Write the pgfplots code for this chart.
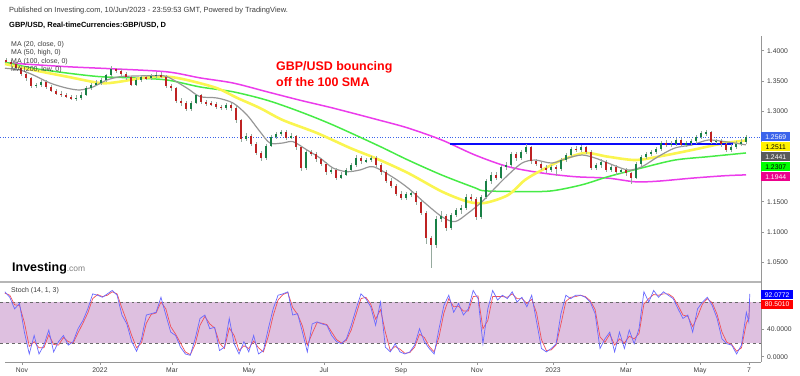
\documentclass[border=0pt]{standalone}
\usepackage{pgfplots}
\pgfplotsset{compat=1.18}
\usepackage{pgfplotstable}
\usepackage{fontspec}
\setmainfont{Liberation Sans}
\definecolor{upc}{RGB}{25,128,70}
\definecolor{dnc}{RGB}{190,35,35}
\definecolor{wickc}{RGB}{150,170,158}
\definecolor{ma20}{RGB}{150,150,150}
\definecolor{ma50}{RGB}{250,245,80}
\definecolor{ma100}{RGB}{70,235,70}
\definecolor{ma200}{RGB}{235,60,235}
\definecolor{resc}{RGB}{10,10,250}
\definecolor{pricec}{RGB}{60,100,235}
\definecolor{kc}{RGB}{105,105,255}
\definecolor{dc}{RGB}{240,80,90}
\definecolor{bandc}{RGB}{222,192,224}
\definecolor{axc}{RGB}{150,150,150}
\definecolor{txc}{RGB}{60,60,60}

\pgfplotstableread{
x o h l c d
6 1.385 1.388 1.379 1.382 0
11 1.382 1.385 1.375 1.378 0
16 1.378 1.381 1.369 1.372 0
21 1.372 1.375 1.358 1.362 0
26 1.362 1.365 1.350 1.354 0
31 1.354 1.356 1.338 1.342 0
36 1.342 1.347 1.339 1.343 1
41 1.343 1.352 1.340 1.348 1
46 1.348 1.351 1.337 1.340 0
51 1.340 1.343 1.331 1.334 0
56 1.334 1.337 1.326 1.329 0
61 1.329 1.333 1.324 1.327 0
66 1.327 1.330 1.321 1.324 0
71 1.324 1.327 1.318 1.321 0
76 1.321 1.326 1.317 1.322 1
81 1.322 1.331 1.319 1.327 1
86 1.327 1.341 1.325 1.338 1
91 1.338 1.347 1.335 1.344 1
96 1.344 1.351 1.341 1.347 1
101 1.347 1.355 1.344 1.352 1
106 1.352 1.362 1.349 1.359 1
111 1.359 1.374 1.356 1.369 1
116 1.369 1.372 1.363 1.367 0
121 1.367 1.370 1.358 1.362 0
126 1.362 1.365 1.352 1.356 0
131 1.356 1.358 1.341 1.344 0
136 1.344 1.355 1.342 1.352 1
141 1.352 1.360 1.349 1.356 1
146 1.356 1.360 1.351 1.355 0
151 1.355 1.362 1.352 1.358 1
156 1.358 1.365 1.355 1.360 1
161 1.360 1.364 1.354 1.357 0
166 1.357 1.359 1.338 1.341 0
171 1.341 1.345 1.334 1.338 0
176 1.338 1.340 1.313 1.317 0
181 1.317 1.321 1.309 1.313 0
186 1.313 1.316 1.300 1.304 0
191 1.304 1.317 1.301 1.314 1
196 1.314 1.329 1.311 1.326 1
201 1.326 1.328 1.312 1.315 0
206 1.315 1.319 1.309 1.313 0
211 1.313 1.317 1.308 1.312 0
216 1.312 1.315 1.304 1.307 0
221 1.307 1.310 1.301 1.305 0
226 1.305 1.313 1.302 1.310 1
231 1.310 1.313 1.301 1.305 0
236 1.305 1.308 1.281 1.285 0
241 1.285 1.287 1.249 1.254 0
246 1.254 1.264 1.250 1.259 1
251 1.259 1.262 1.242 1.246 0
256 1.246 1.249 1.227 1.231 0
261 1.231 1.234 1.217 1.222 0
266 1.222 1.246 1.219 1.243 1
271 1.243 1.260 1.240 1.257 1
276 1.257 1.266 1.254 1.262 1
281 1.262 1.269 1.259 1.265 1
286 1.265 1.268 1.252 1.256 0
291 1.256 1.263 1.253 1.258 1
296 1.258 1.261 1.236 1.240 0
301 1.240 1.242 1.200 1.206 0
306 1.206 1.236 1.203 1.232 1
311 1.232 1.236 1.225 1.229 0
316 1.229 1.232 1.216 1.220 0
321 1.220 1.223 1.209 1.213 0
326 1.213 1.216 1.195 1.199 0
331 1.199 1.207 1.196 1.203 1
336 1.203 1.205 1.186 1.190 0
341 1.190 1.199 1.187 1.195 1
346 1.195 1.206 1.192 1.202 1
351 1.202 1.214 1.199 1.211 1
356 1.211 1.227 1.208 1.223 1
361 1.223 1.226 1.213 1.217 0
366 1.217 1.223 1.214 1.219 1
371 1.219 1.226 1.216 1.222 1
376 1.222 1.225 1.207 1.211 0
381 1.211 1.214 1.195 1.199 0
386 1.199 1.202 1.181 1.185 0
391 1.185 1.189 1.172 1.176 0
396 1.176 1.179 1.159 1.163 0
401 1.163 1.167 1.152 1.156 0
406 1.156 1.166 1.153 1.162 1
411 1.162 1.169 1.158 1.165 1
416 1.165 1.168 1.145 1.149 0
421 1.149 1.152 1.128 1.132 0
426 1.132 1.135 1.080 1.090 0
431 1.090 1.094 1.040 1.078 0
436 1.078 1.126 1.074 1.122 1
441 1.122 1.135 1.117 1.126 1
446 1.126 1.129 1.102 1.106 0
451 1.106 1.132 1.103 1.128 1
456 1.128 1.140 1.124 1.136 1
461 1.136 1.145 1.130 1.139 1
466 1.139 1.162 1.136 1.158 1
471 1.158 1.162 1.151 1.155 0
476 1.155 1.158 1.120 1.124 0
481 1.124 1.161 1.121 1.158 1
486 1.158 1.188 1.155 1.184 1
491 1.184 1.199 1.180 1.195 1
496 1.195 1.199 1.186 1.190 0
501 1.190 1.211 1.187 1.207 1
506 1.207 1.215 1.203 1.211 1
511 1.211 1.232 1.208 1.229 1
516 1.229 1.233 1.218 1.222 0
521 1.222 1.236 1.219 1.232 1
526 1.232 1.245 1.229 1.240 1
531 1.240 1.242 1.213 1.217 0
536 1.217 1.221 1.209 1.213 0
541 1.213 1.216 1.202 1.206 0
546 1.206 1.210 1.198 1.202 0
551 1.202 1.211 1.199 1.207 1
556 1.207 1.211 1.193 1.204 0
561 1.204 1.222 1.201 1.219 1
566 1.219 1.231 1.215 1.227 1
571 1.227 1.241 1.224 1.238 1
576 1.238 1.242 1.232 1.236 0
581 1.236 1.244 1.233 1.240 1
586 1.240 1.243 1.229 1.233 0
591 1.233 1.235 1.202 1.206 0
596 1.206 1.214 1.202 1.210 1
601 1.210 1.220 1.206 1.216 1
606 1.216 1.219 1.199 1.203 0
611 1.203 1.211 1.199 1.207 1
616 1.207 1.210 1.195 1.199 0
621 1.199 1.206 1.196 1.202 1
626 1.202 1.205 1.193 1.197 0
631 1.197 1.200 1.180 1.190 0
636 1.190 1.215 1.187 1.212 1
641 1.212 1.227 1.209 1.224 1
646 1.224 1.232 1.220 1.229 1
651 1.229 1.236 1.225 1.232 1
656 1.232 1.241 1.229 1.237 1
661 1.237 1.251 1.234 1.248 1
666 1.248 1.252 1.240 1.244 0
671 1.244 1.250 1.240 1.246 1
676 1.246 1.256 1.243 1.252 1
681 1.252 1.255 1.240 1.244 0
686 1.244 1.251 1.240 1.247 1
691 1.247 1.254 1.243 1.250 1
696 1.250 1.261 1.246 1.257 1
701 1.257 1.267 1.254 1.263 1
706 1.263 1.268 1.259 1.265 1
711 1.265 1.267 1.245 1.249 0
716 1.249 1.254 1.245 1.251 1
721 1.251 1.254 1.241 1.245 0
726 1.245 1.248 1.232 1.236 0
731 1.236 1.245 1.232 1.241 1
736 1.241 1.251 1.237 1.246 1
741 1.246 1.253 1.242 1.249 1
746 1.249 1.260 1.245 1.2569 1
}\candles

\pgfplotstableread{
x p
5 1.371
20 1.368
33 1.360
50 1.3465
67 1.338
80 1.335
93 1.340
107 1.3515
120 1.357
133 1.358
153 1.3586
167 1.357
187 1.338
200 1.324
217 1.3217
233 1.3134
247 1.2935
260 1.266
270 1.2472
283 1.2472
293 1.2494
307 1.2356
320 1.2224
333 1.2058
347 1.1997
360 1.2025
373 1.208
392 1.1914
408 1.1727
425 1.1478
442 1.125
455 1.117
468 1.131
482 1.150
495 1.1727
508 1.1942
522 1.214
535 1.219
552 1.214
568 1.2224
582 1.2273
595 1.2224
608 1.214
628 1.2025
642 1.208
658 1.2245
675 1.239
692 1.244
708 1.252
725 1.2494
746 1.2441
}\maA

\pgfplotstableread{
x p
5 1.378
33 1.368
67 1.357
100 1.3465
117 1.348
143 1.355
167 1.357
187 1.3515
217 1.338
237 1.322
260 1.305
283 1.285
317 1.2637
350 1.239
377 1.221
408 1.1975
442 1.1667
468 1.150
485 1.148
508 1.161
525 1.186
542 1.2025
562 1.219
585 1.2306
608 1.2245
635 1.219
658 1.2245
692 1.2356
725 1.2472
746 1.2511
}\maB

\pgfplotstableread{
x p
5 1.381
33 1.371
67 1.363
100 1.357
133 1.355
167 1.3515
200 1.340
233 1.332
267 1.318
300 1.299
333 1.277
378 1.243
408 1.219
442 1.194
475 1.173
485 1.168
525 1.1667
552 1.168
582 1.178
608 1.1914
642 1.206
675 1.219
708 1.2245
746 1.2307
}\maC

\pgfplotstableread{
x p
5 1.380
67 1.3735
113 1.370
167 1.365
200 1.355
233 1.3465
267 1.332
300 1.318
333 1.305
377 1.286
408 1.272
442 1.252
475 1.2273
508 1.208
542 1.1975
575 1.1914
608 1.189
635 1.183
658 1.184
692 1.189
725 1.193
746 1.1944
}\maD

\pgfplotstableread{
z k d
10 95 93
20 87 90
30 70 76
40 78 75
50 36 50
60 4 15
70 31 22
80 4 13
90 17 13
100 39 32
110 7 18
120 22 17
130 31 28
140 17 22
150 22 20
160 41 35
170 53 49
180 70 64
190 92 85
200 90 91
210 87 88
220 92 90
230 97 95
240 90 92
250 61 71
260 48 52
270 22 31
280 8 13
290 26 20
300 61 49
310 63 62
320 65 64
330 87 80
340 61 70
350 36 44
360 31 33
370 14 20
380 4 7
390 2 3
400 26 18
410 56 46
420 61 59
430 41 48
440 43 42
450 9 20
460 14 12
470 56 42
480 19 31
490 4 9
500 22 16
510 7 12
520 31 23
530 4 13
540 9 7
550 41 30
560 70 60
570 90 83
580 92 91
590 95 94
600 61 72
610 63 62
620 36 45
630 7 17
640 48 34
650 51 50
660 48 49
670 46 47
680 31 36
690 22 25
700 19 20
710 26 24
720 46 39
730 70 62
740 92 85
750 85 87
760 73 77
770 46 55
780 80 69
790 14 36
800 7 9
810 19 15
820 7 11
830 4 5
840 7 6
850 17 14
860 41 33
870 22 28
880 12 15
890 4 7
900 41 29
910 75 64
920 90 85
930 65 73
940 78 74
950 61 67
960 70 67
970 97 88
980 85 89
990 19 41
1000 70 53
1010 97 88
1020 83 88
1030 90 88
1040 85 87
1050 95 92
1060 80 85
1070 87 85
1080 73 78
1090 90 84
1100 51 64
1110 12 25
1120 7 9
1130 12 10
1140 19 17
1150 63 48
1160 90 81
1170 85 87
1180 90 88
1190 90 90
1200 87 88
1210 80 82
1220 63 69
1230 12 29
1240 26 21
1250 36 33
1260 7 17
1270 36 26
1280 12 20
1290 39 30
1300 19 26
1310 41 34
1320 95 77
1330 80 85
1340 97 91
1350 87 90
1360 95 92
1370 90 92
1380 85 87
1390 70 75
1400 56 61
1410 61 59
1420 36 44
1430 70 59
1440 80 77
1450 87 85
1460 75 79
1470 56 62
1480 26 36
1490 19 21
1500 17 18
1510 4 8
1520 17 13
1530 65 49
1535 51 56
1537 92.0772 80.501
}\stoch

\begin{document}
\begin{tikzpicture}[x=1bp,y=1bp]
\path[use as bounding box] (0bp,0bp) rectangle (800bp,376bp);

% main price panel
\begin{axis}[at={(0bp,95bp)}, anchor=south west, scale only axis,
  width=761bp, height=245bp,
  xmin=0, xmax=761, ymin=1.01871, ymax=1.42434,
  axis line style={draw=none}, xtick=\empty,
  ytick={1.05,1.10,1.15,1.30,1.35,1.40},
  ytick pos=right, yticklabel pos=right,
  tick align=outside, major tick length=3bp,
  tick style={axc, line width=0.5bp},
  yticklabel style={font=\fontsize{6.8}{8}\selectfont, text=txc, inner sep=0pt, xshift=3bp,
    /pgf/number format/fixed, /pgf/number format/fixed zerofill, /pgf/number format/precision=4},
  /pgf/number format/assume math mode=true,
  clip=true]
\addplot[color=pricec, dotted, line width=0.7bp] coordinates {(0,1.2569) (761,1.2569)};
\addplot[ma200, line width=1.5bp, smooth] table[x=x,y=p] {\maD};
\addplot[ma100, line width=1.5bp, smooth] table[x=x,y=p] {\maC};
\addplot[ma50, line width=2.6bp, smooth] table[x=x,y=p] {\maB};
\addplot[ma20, line width=1.2bp, smooth] table[x=x,y=p] {\maA};
\addplot[resc, line width=1.6bp] coordinates {(450,1.2455) (733,1.2455)};
% wicks
\addplot[draw=none, mark=none, error bars/.cd, y dir=both, y explicit, error mark=none,
  error bar style={draw=wickc, line width=0.8bp}]
  table[x=x, y expr={(\thisrow{h}+\thisrow{l})/2}, y error expr={(\thisrow{h}-\thisrow{l})/2}] {\candles};
% up bodies
\addplot[draw=none, mark=none, restrict expr to domain={\thisrow{d}}{0.5:1.5},
  error bars/.cd, y dir=both, y explicit, error mark=none,
  error bar style={draw=upc, line width=2.7bp}]
  table[x=x, y expr={(\thisrow{o}+\thisrow{c})/2}, y error expr={max(abs(\thisrow{c}-\thisrow{o})/2,0.0008)}] {\candles};
% down bodies
\addplot[draw=none, mark=none, restrict expr to domain={\thisrow{d}}{-0.5:0.5},
  error bars/.cd, y dir=both, y explicit, error mark=none,
  error bar style={draw=dnc, line width=2.7bp}]
  table[x=x, y expr={(\thisrow{o}+\thisrow{c})/2}, y error expr={max(abs(\thisrow{c}-\thisrow{o})/2,0.0008)}] {\candles};
\end{axis}

% stochastic panel
\begin{axis}[at={(0bp,14bp)}, anchor=south west, scale only axis,
  width=761bp, height=80bp,
  xmin=0, xmax=761, ymin=-7.76, ymax=109.37,
  axis line style={draw=none},
  xtick={22,100,172,249,324,401,477,553,626,700,749},
  xticklabels={Nov,2022,Mar,May,Jul,Sep,Nov,2023,Mar,May,7},
  xtick pos=left,
  ytick={0,40}, ytick pos=right, yticklabel pos=right,
  tick align=outside, major tick length=3bp,
  tick style={axc, line width=0.5bp},
  xticklabel style={font=\fontsize{6.8}{8}\selectfont, text=txc, inner sep=0pt, yshift=-2.5bp},
  yticklabel style={font=\fontsize{6.8}{8}\selectfont, text=txc, inner sep=0pt, xshift=3bp,
    /pgf/number format/fixed, /pgf/number format/fixed zerofill, /pgf/number format/precision=4},
  /pgf/number format/assume math mode=true,
  clip=true]
\addplot[fill=bandc, draw=none] coordinates {(0,20) (761,20) (761,80) (0,80) (0,20)};
\addplot[axc!70!black, dashed, line width=0.7bp] coordinates {(0,80) (761,80)};
\addplot[axc!70!black, dashed, line width=0.7bp] coordinates {(0,20) (761,20)};
\addplot[dc, line width=0.7bp] table[x expr={\thisrow{z}/2.05}, y=d] {\stoch};
\addplot[kc, line width=0.7bp] table[x expr={\thisrow{z}/2.05}, y=k] {\stoch};
\end{axis}

% frame lines
\draw[axc, line width=0.9bp] (761,14) -- (761,340);
\draw[axc, line width=0.9bp] (5,14) -- (761,14);
\draw[axc!70, line width=1.6bp] (0,94) -- (761,94);

% header texts
\node[anchor=west, inner sep=0pt, text=txc, font=\fontsize{7.5}{9}\selectfont] at (9,365)
  {Published on Investing.com, 10/Jun/2023 - 23:59:53 GMT, Powered by TradingView.};
\node[anchor=west, inner sep=0pt, font=\fontsize{7.5}{9}\selectfont\bfseries] at (9,351)
  {GBP/USD, Real-timeCurrencies:GBP/USD, D};
\node[anchor=west, inner sep=0pt, text=txc, font=\fontsize{7}{8}\selectfont] at (11,331.7) {MA (20, close, 0)};
\node[anchor=west, inner sep=0pt, text=txc, font=\fontsize{7}{8}\selectfont] at (11,323.2) {MA (50, high, 0)};
\node[anchor=west, inner sep=0pt, text=txc, font=\fontsize{7}{8}\selectfont] at (11,314.7) {MA (100, close, 0)};
\node[anchor=west, inner sep=0pt, text=txc, font=\fontsize{7}{8}\selectfont] at (11,306.2) {MA (200, low, 0)};
\node[anchor=west, inner sep=0pt, text=txc, font=\fontsize{7}{8}\selectfont] at (11,85) {Stoch (14, 1, 3)};

% annotation
\node[anchor=west, inner sep=0pt, text=red, font=\fontsize{12.5}{14}\selectfont\bfseries] at (276,308.5) {GBP/USD bouncing};
\node[anchor=west, inner sep=0pt, text=red, font=\fontsize{12.5}{14}\selectfont\bfseries] at (276,294.3) {off the 100 SMA};

% logo
\node[anchor=base west, inner sep=0pt] at (12,105)
  {\fontsize{12.5}{14}\selectfont\bfseries Investing{\fontsize{8.5}{10}\mdseries\color{gray}.com}};

% price boxes
\tikzset{pbox/.style={anchor=west, inner sep=0pt, minimum width=29bp, minimum height=9bp, font=\fontsize{6.8}{8}\selectfont}}
\node[pbox, fill=pricec, text=white] at (761,239.3) {1.2569};
\node[pbox, fill=yellow, text=black] at (761,229.3) {1.2511};
\node[pbox, fill=black!65, text=white] at (761,219.3) {1.2441};
\node[pbox, fill=green, text=black] at (761,209.3) {1.2307};
\node[pbox, fill=magenta, text=white] at (761,199.3) {1.1944};
\node[pbox, minimum width=32bp, fill=blue, text=white] at (761,81.3) {92.0772};
\node[pbox, minimum width=32bp, fill=red, text=white] at (761,71.7) {80.5010};
\end{tikzpicture}
\end{document}
